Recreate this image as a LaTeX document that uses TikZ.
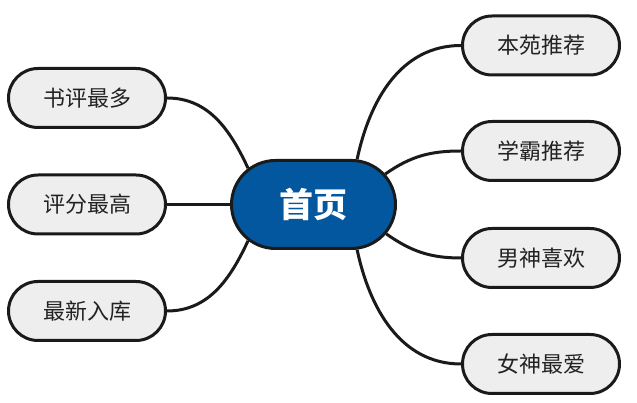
\documentclass[tikz,border=0pt]{standalone}
\usepackage{fontspec}
\setmainfont{Noto Sans CJK SC}
\usetikzlibrary{shapes.misc,backgrounds}
\definecolor{hub}{HTML}{03579E}
\definecolor{leaffill}{HTML}{EEEEEE}
\definecolor{ink}{HTML}{1A1A1A}
\definecolor{txt}{HTML}{222222}
\begin{document}
\begin{tikzpicture}[x=1pt,y=1pt,
  leaf/.style={rounded rectangle, draw=ink, line width=3pt, fill=leaffill,
    minimum width=157pt, minimum height=59pt, inner sep=0pt, text=txt,
    font=\fontsize{22}{26}\selectfont},
  hubnode/.style={rounded rectangle, draw=ink, line width=3pt, fill=hub,
    minimum width=164pt, minimum height=88pt, inner sep=0pt, text=white,
    font=\bfseries\fontsize{34}{40}\selectfont},
  link/.style={draw=ink, line width=3pt}]
\useasboundingbox (0,0) rectangle (637,403);
\node[hubnode] (c) at (313.5,198.5) {首页};
\node[leaf] (l1) at (87,305) {书评最多};
\node[leaf] (l2) at (87,198.5) {评分最高};
\node[leaf] (l3) at (87,92) {最新入库};
\node[leaf] (r1) at (541,357.5) {本苑推荐};
\node[leaf] (r2) at (541,252) {学霸推荐};
\node[leaf] (r3) at (541,145) {男神喜欢};
\node[leaf] (r4) at (541,39) {女神最爱};
\begin{scope}[on background layer]
\draw[link] (l1.east) to[out=0,in=115] (c.151);
\draw[link] (l2.east) -- (c.west);
\draw[link] (l3.east) to[out=0,in=-115] (c.209);
\draw[link] (c.46) to[out=78,in=180] (r1.west);
\draw[link] (c.23) to[out=35,in=180] (r2.west);
\draw[link] (c.-22) to[out=-35,in=180] (r3.west);
\draw[link] (c.-46) to[out=-78,in=180] (r4.west);
\end{scope}
\end{tikzpicture}
\end{document}
